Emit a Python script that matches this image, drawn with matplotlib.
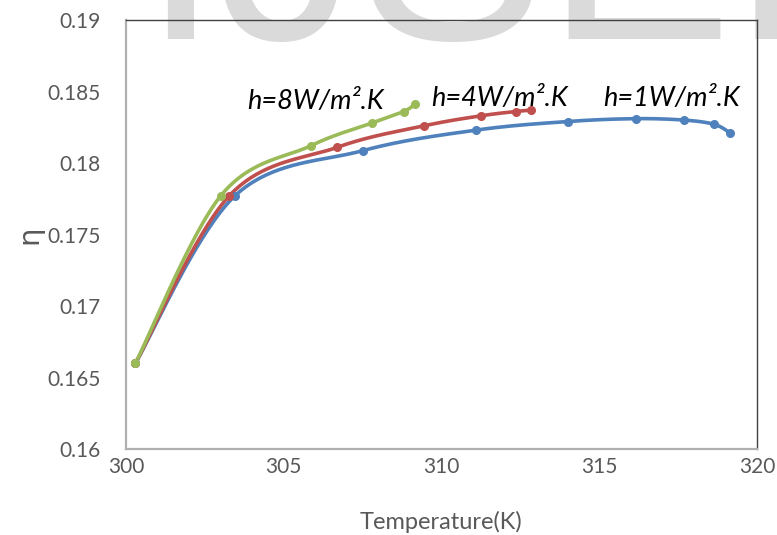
import numpy as np
import matplotlib
matplotlib.use("Agg")
import matplotlib.pyplot as plt

# Efficiency vs. temperature for three heat-transfer coefficients
temp_h1 = [300.3, 303.45, 307.5, 311.1, 314.0, 316.15, 317.7, 318.65, 319.15]
eta_h1 = [0.1660, 0.1777, 0.18086, 0.1823, 0.1829, 0.1831, 0.1830, 0.1827, 0.1821]

temp_h4 = [300.3, 303.27, 306.7, 309.45, 311.25, 312.35, 312.85]
eta_h4 = [0.1660, 0.1777, 0.1811, 0.1826, 0.1833, 0.1836, 0.1837]

temp_h8 = [300.3, 303.0, 305.85, 307.8, 308.8, 309.15]
eta_h8 = [0.1660, 0.1777, 0.1812, 0.1828, 0.1836, 0.1841]

series_labels = ["h=1W/m².K", "h=4W/m².K", "h=8W/m².K"]
series_colors = ["#4F81BD", "#C0504D", "#9BBB59"]

x_ticks = [300, 305, 310, 315, 320]
y_ticks = [0.16, 0.165, 0.17, 0.175, 0.18, 0.185, 0.19]
y_tick_labels = ["0.16", "0.165", "0.17", "0.175", "0.18", "0.185", "0.19"]


def smooth(xs, ys, n=40):
    """Catmull-Rom style smoothing through every point (spreadsheet 'smoothed line')."""
    xs = np.asarray(xs, float)
    ys = np.asarray(ys, float)
    px = np.concatenate([[xs[0]], xs, [xs[-1]]])
    py = np.concatenate([[ys[0]], ys, [ys[-1]]])
    out_x, out_y = [], []
    t = np.linspace(0, 1, n)
    for i in range(1, len(px) - 2):
        p0x, p1x, p2x, p3x = px[i - 1], px[i], px[i + 1], px[i + 2]
        p0y, p1y, p2y, p3y = py[i - 1], py[i], py[i + 1], py[i + 2]
        c1x, c1y = p1x + (p2x - p0x) / 6, p1y + (p2y - p0y) / 6
        c2x, c2y = p2x - (p3x - p1x) / 6, p2y - (p3y - p1y) / 6
        bx = (1 - t) ** 3 * p1x + 3 * (1 - t) ** 2 * t * c1x + 3 * (1 - t) * t ** 2 * c2x + t ** 3 * p2x
        by = (1 - t) ** 3 * p1y + 3 * (1 - t) ** 2 * t * c1y + 3 * (1 - t) * t ** 2 * c2y + t ** 3 * p2y
        out_x.extend(bx)
        out_y.extend(by)
    return np.array(out_x), np.array(out_y)


fig = plt.figure(figsize=(7.77, 5.35), dpi=100)
fig.patch.set_facecolor("white")

# faint journal watermark behind the chart
fig.text(141 / 777, 1 - 39 / 535, "IJSER", fontsize=201.6, family="Liberation Sans",
         color="#dadada", ha="left", va="baseline", zorder=-5)

ax = fig.add_axes([126 / 777, 1 - 449 / 535, (757 - 126) / 777, (449 - 20) / 535])
ax.set_facecolor("none")

for xs, ys, col in [(temp_h1, eta_h1, series_colors[0]),
                    (temp_h4, eta_h4, series_colors[1]),
                    (temp_h8, eta_h8, series_colors[2])]:
    sx, sy = smooth(xs, ys)
    ax.plot(sx, sy, color=col, lw=2.6, solid_capstyle="round", zorder=3)
    ax.plot(xs, ys, "o", color=col, ms=5.5, zorder=4)

ax.set_xlim(300, 320)
ax.set_ylim(0.16, 0.19)
ax.set_xticks(x_ticks)
ax.set_yticks(y_ticks)
ax.set_yticklabels(y_tick_labels)
ax.tick_params(length=0, labelsize=15, colors="#595959")
ax.tick_params(axis="y", pad=18)
ax.tick_params(axis="x", pad=6)
for lab in ax.get_xticklabels() + ax.get_yticklabels():
    lab.set_family("Lato")

for side in ["left", "bottom"]:
    ax.spines[side].set_color("#b0b0b0")
    ax.spines[side].set_linewidth(1.6)
for side in ["top", "right"]:
    ax.spines[side].set_color("#404040")
    ax.spines[side].set_linewidth(1.0)

ax.set_xlabel("Temperature(K)", fontsize=17, family="Lato", color="#595959", labelpad=24)
ax.set_ylabel("η", fontsize=21, family="DejaVu Sans", color="#595959", labelpad=3)

# curve labels
ax.text(303.83, 0.18378, series_labels[2], fontsize=19.5, family="Lato", style="italic",
        color="black", ha="left", va="baseline")
ax.text(309.66, 0.18399, series_labels[1], fontsize=19.5, family="Lato", style="italic",
        color="black", ha="left", va="baseline")
ax.text(315.11, 0.18399, series_labels[0], fontsize=19.5, family="Lato", style="italic",
        color="black", ha="left", va="baseline")

fig.savefig("out.png", dpi=100)
